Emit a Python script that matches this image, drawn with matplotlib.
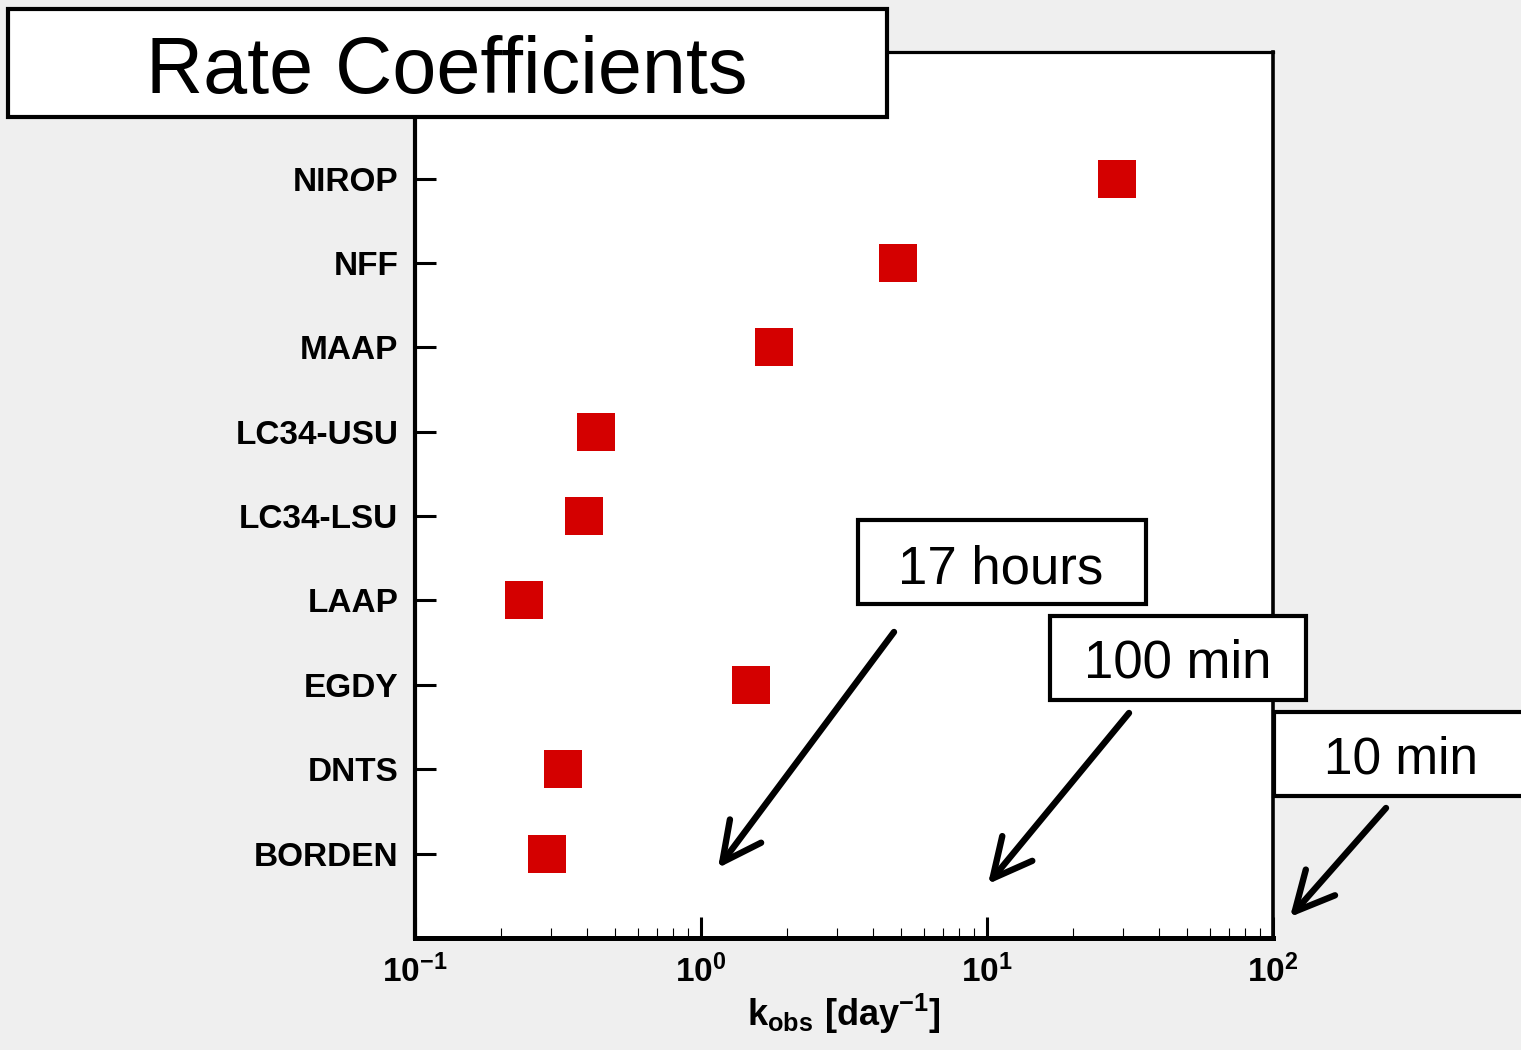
import matplotlib
matplotlib.use('Agg')
import matplotlib.pyplot as plt
from matplotlib.patches import Rectangle, FancyArrowPatch
from matplotlib.ticker import FuncFormatter
import numpy as np

plt.rcParams['font.family'] = ['Liberation Sans', 'DejaVu Sans']
plt.rcParams['mathtext.fontset'] = 'custom'
plt.rcParams['mathtext.rm'] = 'Liberation Sans:bold'
plt.rcParams['mathtext.it'] = 'Liberation Sans:bold'
plt.rcParams['mathtext.bf'] = 'Liberation Sans:bold'

# data (bottom -> top)
sites = ['BORDEN', 'DNTS', 'EGDY', 'LAAP', 'LC34-LSU', 'LC34-USU', 'MAAP', 'NFF', 'NIROP']
k_obs = [0.29, 0.33, 1.50, 0.24, 0.39, 0.43, 1.80, 4.9, 28.5]

W, H = 1521, 1050
bg = '#efefef'
red = '#d40000'

fig = plt.figure(figsize=(W / 100, H / 100), dpi=100, facecolor=bg)
ax = fig.add_axes([415 / W, 1 - 938 / H, (1273 - 415) / W, (938 - 52) / H])
ax.set_facecolor('white')

ypos = list(range(len(sites)))
ax.plot(k_obs, ypos, 's', color=red, markersize=26.8, markeredgewidth=0, zorder=3)

ax.set_xscale('log')
ax.set_xlim(0.1, 100)
ax.set_ylim(-1, 9.5)
ax.set_yticks(ypos)
ax.set_yticklabels(sites, fontsize=24, fontweight='bold')
ax.xaxis.set_major_formatter(FuncFormatter(
    lambda v, p: r'$\mathbf{10^{%d}}$' % int(round(np.log10(v)))))
ax.tick_params(axis='y', direction='in', length=15, width=2.2, pad=12)
ax.tick_params(axis='x', which='major', direction='in', length=15, width=2.2,
               pad=12, labelsize=24)
ax.tick_params(axis='x', which='minor', direction='in', length=7, width=0.8)
ax.set_xlabel(r'$\mathbf{k_{obs}\ [day^{-1}]}$', fontsize=26, labelpad=2)

ax.spines['left'].set_linewidth(3.0)
ax.spines['bottom'].set_linewidth(3.6)
ax.spines['top'].set_linewidth(2.3)
ax.spines['right'].set_linewidth(2.6)


def fx(x):
    return x / W


def fy(y):
    return 1 - y / H


def box(x0, y0, x1, y1, label, size, cx, cy):
    fig.add_artist(Rectangle((fx(x0), fy(y1)), fx(x1) - fx(x0), fy(y0) - fy(y1),
                             transform=fig.transFigure, facecolor='white',
                             edgecolor='black', lw=3, zorder=5))
    fig.text(fx(cx), fy(cy), label, fontsize=size, ha='center', va='center', zorder=6)


# title + time boxes
box(8, 9, 887, 117, 'Rate Coefficients', 57, 447, 73)
box(858, 520, 1146, 604, '17 hours', 38, 1001, 569)
box(1050, 616, 1306, 700, '100 min', 38, 1178, 664)
box(1274, 712, 1540, 796, '10 min', 37, 1401, 760)

# arrows
arrows = [((894, 632), (718, 868)),
          ((1129, 713), (988, 884)),
          ((1386, 808), (1290, 917))]
for (xs, ys), (xe, ye) in arrows:
    fig.add_artist(FancyArrowPatch(
        (fx(xs), fy(ys)), (fx(xe), fy(ye)), transform=fig.transFigure,
        arrowstyle='->,head_length=1.4,head_width=0.7', mutation_scale=20,
        lw=4.6, color='black', shrinkA=0, shrinkB=0, zorder=6))

fig.savefig('out.png', dpi=100, facecolor=bg)
